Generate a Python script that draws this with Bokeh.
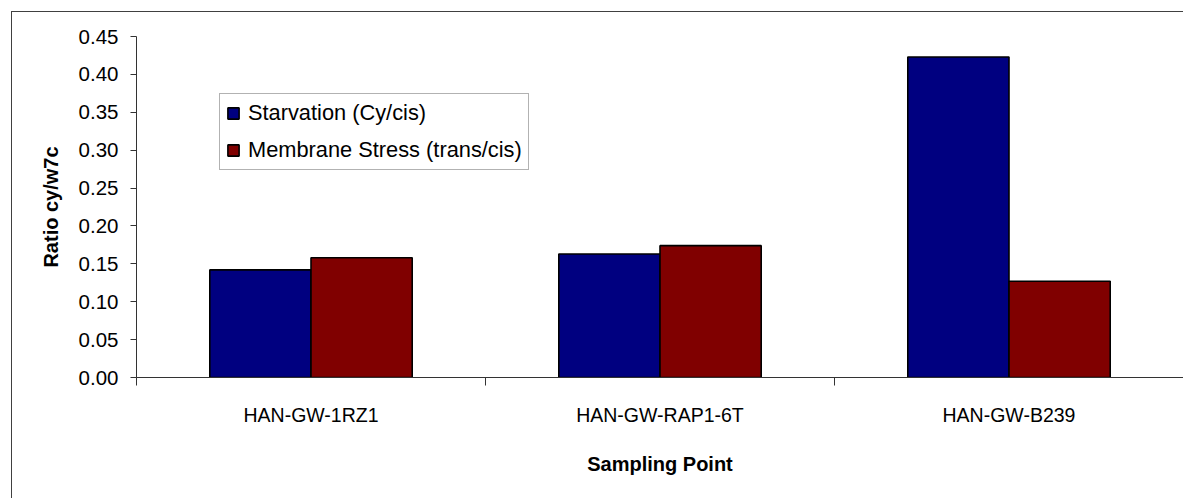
import numpy as np
from bokeh.plotting import figure
from bokeh.models import (ColumnDataSource, FixedTicker, NumeralTickFormatter,
                          Legend, LegendItem, Range1d)
from bokeh.embed import file_html
from bokeh.resources import INLINE

# ---- data ----
categories = ["HAN-GW-1RZ1", "HAN-GW-RAP1-6T", "HAN-GW-B239"]
starvation = [0.142, 0.163, 0.423]
membrane_stress = [0.158, 0.174, 0.127]
series_names = ["Starvation (Cy/cis)", "Membrane Stress (trans/cis)"]
y_ticks = [0.00, 0.05, 0.10, 0.15, 0.20, 0.25, 0.30, 0.35, 0.40, 0.45]
x_title = "Sampling Point"
y_title = "Ratio cy/w7c"

BLUE = "#000080"
RED = "#800000"
AXIS = "#333333"

centers = np.arange(len(categories)) + 0.5
bar_w = 0.29

src_a = ColumnDataSource(dict(x=centers - bar_w / 2, top=starvation))
src_b = ColumnDataSource(dict(x=centers + bar_w / 2, top=membrane_stress))

p = figure(width=1183, height=498,
           x_range=Range1d(0, len(categories)), y_range=Range1d(0, y_ticks[-1]),
           output_backend="svg", toolbar_location=None,
           min_border_left=136, min_border_top=36, min_border_right=0,
           min_border_bottom=121)
p.styles = {"box-shadow": "inset 11px 11px 0 0 #ffffff, inset 12px 12px 0 0 #404040",
            "background-color": "#ffffff"}
p.outline_line_color = None
p.background_fill_color = "white"
p.border_fill_color = None
p.xgrid.visible = False
p.ygrid.visible = False

ra = p.vbar(x="x", top="top", width=bar_w, source=src_a, fill_color=BLUE,
            line_color="black", line_width=1.6)
rb = p.vbar(x="x", top="top", width=bar_w, source=src_b, fill_color=RED,
            line_color="black", line_width=1.6)

# x axis
xa = p.xaxis[0]
xa.ticker = FixedTicker(ticks=list(centers),
                        minor_ticks=list(range(len(categories) + 1)))
xa.major_label_overrides = {float(c): n for c, n in zip(centers, categories)}
xa.major_tick_out = 0
xa.major_tick_in = 0
xa.minor_tick_out = 8
xa.minor_tick_in = 0
xa.minor_tick_line_color = AXIS
xa.axis_line_color = AXIS
xa.major_label_text_font = "Liberation Sans"
xa.major_label_text_font_size = "19.5px"
xa.major_label_text_color = "black"
xa.major_label_standoff = 18
xa.axis_label = x_title
xa.axis_label_text_font = "Liberation Sans"
xa.axis_label_text_font_style = "bold"
xa.axis_label_text_font_size = "20px"
xa.axis_label_text_color = "black"
xa.axis_label_standoff = 24

# y axis
ya = p.yaxis[0]
ya.ticker = FixedTicker(ticks=y_ticks, minor_ticks=[])
ya.formatter = NumeralTickFormatter(format="0.00")
ya.major_tick_out = 6
ya.major_tick_in = 0
ya.major_tick_line_color = AXIS
ya.axis_line_color = AXIS
ya.major_label_text_font = "Liberation Sans"
ya.major_label_text_font_size = "20.5px"
ya.major_label_text_color = "black"
ya.major_label_standoff = 12
ya.axis_label = y_title
ya.axis_label_text_font = "Liberation Sans"
ya.axis_label_text_font_style = "bold"
ya.axis_label_text_font_size = "20px"
ya.axis_label_text_color = "black"
ya.axis_label_standoff = 14

legend = Legend(items=[LegendItem(label=series_names[0], renderers=[ra]),
                       LegendItem(label=series_names[1], renderers=[rb])],
                location=(83, 207), orientation="vertical",
                glyph_width=14, glyph_height=14, label_height=24,
                label_standoff=8, spacing=11, padding=6, margin=0,
                label_text_font="Liberation Sans", label_text_font_size="21.8px",
                label_text_color="black",
                border_line_color="#666666", border_line_width=1,
                background_fill_color="white", background_fill_alpha=1.0)
p.add_layout(legend)

open("out.html", "w").write(file_html(p, INLINE))
